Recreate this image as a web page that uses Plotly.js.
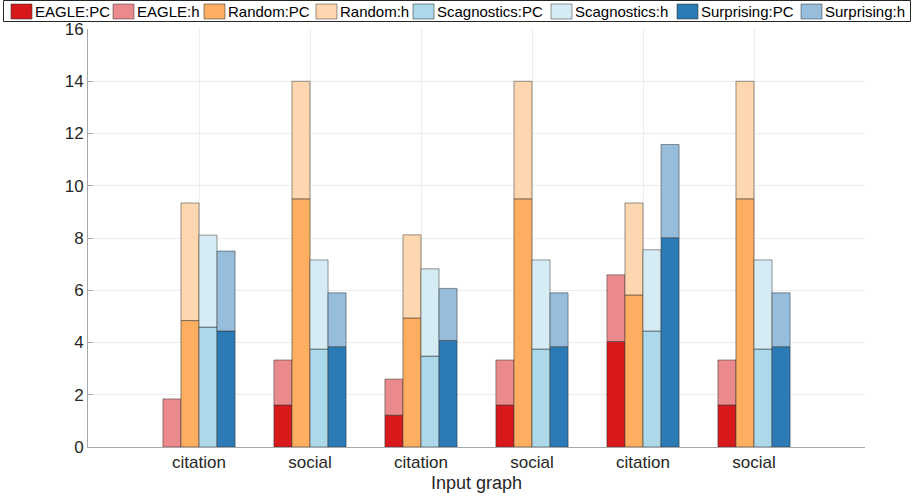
<!DOCTYPE html>
<html>
<head>
<meta charset="utf-8">
<script src="https://cdn.plot.ly/plotly-3.0.1.min.js"></script>
<style>html,body{margin:0;padding:0;background:#fff;}#chart{width:912px;height:499px;}</style>
</head>
<body>
<div id="chart"></div>
<script>
// Categories (x positions 1..6)
const groupLabels = ["citation", "social", "citation", "social", "citation", "social"];
const groupPos = [1, 2, 3, 4, 5, 6];

// Segment heights (PC = bottom segment, h = segment stacked on top)
const eaglePC = [0, 1.61, 1.22, 1.61, 4.04, 1.61];
const eagleH = [1.84, 1.72, 1.38, 1.72, 2.55, 1.72];
const randomPC = [4.84, 9.5, 4.94, 9.5, 5.82, 9.5];
const randomH = [4.5, 4.5, 3.18, 4.5, 3.52, 4.5];
const scagPC = [4.59, 3.75, 3.48, 3.75, 4.44, 3.75];
const scagH = [3.52, 3.41, 3.34, 3.41, 3.11, 3.41];
const surpPC = [4.44, 3.84, 4.08, 3.84, 8.01, 3.84];
const surpH = [3.06, 2.06, 1.99, 2.06, 3.57, 2.06];

const yTicks = [0, 2, 4, 6, 8, 10, 12, 14, 16];
const methodNames = ["EAGLE", "Random", "Scagnostics", "Surprising"];
const partNames = ["PC", "h"];

const colorsPC = ["rgb(215,25,28)", "rgb(253,174,97)", "rgb(171,217,233)", "rgb(44,123,182)"];
const colorsH = ["rgb(235,138,140)", "rgb(254,215,176)", "rgb(214,236,244)", "rgb(150,189,219)"];
const edgePC = "rgba(50,50,50,0.55)";
const edgeH = "rgba(50,50,50,0.5)";

const pcSeries = [eaglePC, randomPC, scagPC, surpPC];
const hSeries = [eagleH, randomH, scagH, surpH];

const W = 912, H = 499;
const M = {l: 88, r: 47, t: 29, b: 52};
const FONT = "Liberation Sans, Arial, sans-serif";
const LEG_FONT = 15;
// legend swatch left edges (px) for the single-row boxed legend
const legendSwatchX = [11, 113, 204, 316, 413, 551, 677, 801];

const traces = [];
const legendItems = [];
methodNames.forEach(function (nm, i) {
  traces.push({
    type: "bar", x: groupPos, y: pcSeries[i], name: nm + ":" + partNames[0],
    offsetgroup: nm,
    marker: {color: colorsPC[i], line: {color: edgePC, width: 1}},
    hoverinfo: "y+name"
  });
  traces.push({
    type: "bar", x: groupPos, y: hSeries[i], base: pcSeries[i], name: nm + ":" + partNames[1],
    offsetgroup: nm,
    marker: {color: colorsH[i], line: {color: edgeH, width: 1}},
    hoverinfo: "y+name"
  });
  legendItems.push({text: nm + ":" + partNames[0], color: colorsPC[i], edge: edgePC});
  legendItems.push({text: nm + ":" + partNames[1], color: colorsH[i], edge: edgeH});
});

// Custom single-row legend (boxed), laid out in pixels then converted to paper coords
const pw = W - M.l - M.r, ph = H - M.t - M.b;
function pxX(px) { return (px - M.l) / pw; }
function pxY(py) { return (H - M.b - py) / ph; }

const shapes = [];
const annotations = [];
shapes.push({
  type: "rect", xref: "paper", yref: "paper",
  x0: pxX(3.5), x1: pxX(910.5), y0: pxY(21.5), y1: pxY(0.5),
  line: {color: "#262626", width: 1}, fillcolor: "#fff", layer: "above"
});
legendItems.forEach(function (it, k) {
  const cx = legendSwatchX[k];
  shapes.push({
    type: "rect", xref: "paper", yref: "paper",
    x0: pxX(cx), x1: pxX(cx + 21), y0: pxY(19), y1: pxY(4),
    line: {color: it.edge, width: 1}, fillcolor: it.color, layer: "above"
  });
  annotations.push({
    xref: "paper", yref: "paper", x: pxX(cx + 23), y: pxY(11.5),
    xanchor: "left", yanchor: "middle", showarrow: false, text: it.text,
    font: {family: FONT, size: LEG_FONT, color: "#000"}, borderpad: 0
  });
});

const layout = {
  width: W, height: H,
  margin: M,
  paper_bgcolor: "#fff", plot_bgcolor: "#fff",
  font: {family: FONT, color: "#262626", size: 17},
  barmode: "group", bargap: 0.35, bargroupgap: 0,
  showlegend: false,
  shapes: shapes,
  annotations: annotations,
  xaxis: {
    range: [0, 7], tickmode: "array", tickvals: groupPos, ticktext: groupLabels,
    showgrid: true, gridcolor: "#ececec", zeroline: false,
    showline: true, linecolor: "#a8a8a8", linewidth: 1,
    ticks: "", tickfont: {size: 17},
    title: {text: "Input graph", font: {size: 18}, standoff: 4}
  },
  yaxis: {
    range: [0, 16], tickmode: "array", tickvals: yTicks,
    showgrid: true, gridcolor: "#ececec", zeroline: false,
    showline: true, linecolor: "#a8a8a8", linewidth: 1,
    ticks: "inside", ticklen: 5, tickcolor: "#a8a8a8",
    tickfont: {size: 17}
  }
};

Plotly.newPlot("chart", traces, layout, {displayModeBar: false});
</script>
</body>
</html>
